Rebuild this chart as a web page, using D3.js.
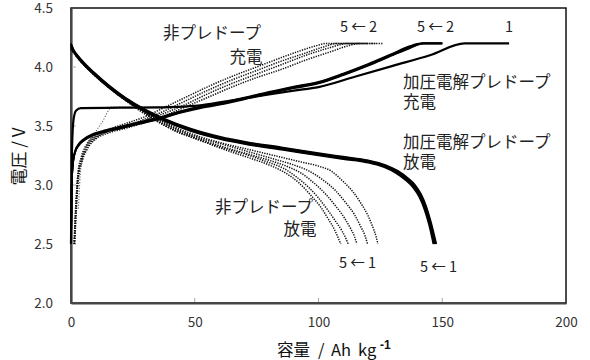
<!DOCTYPE html>
<html><head><meta charset="utf-8">
<script src="https://cdn.jsdelivr.net/npm/d3@7"></script>
<style>
body{margin:0;background:#fff;}
svg{display:block;}
text{font-family:"Noto Sans CJK JP","Noto Sans",sans-serif;}
</style></head>
<body><svg id="c" width="590" height="360"></svg>
<script>
// ---- axis ticks ----
const xTicks = [0, 50, 100, 150, 200];
const yTicks = [2.0, 2.5, 3.0, 3.5, 4.0, 4.5];

// ---- pre-doped (加圧電解プレドープ) charge, solid ----
const preCharge1 = [[0,2.5],[0.4,3.3],[1,3.55],[2,3.63],[4,3.652],[20,3.655],[40,3.66],[50,3.67],[60,3.7],[75,3.75],[90,3.8],[100,3.83],[115,3.92],[130,4.01],[145,4.1],[159,4.2],[177,4.2]];
const preCharge2 = [[0,2.5],[0.3,3.0],[0.8,3.18],[1.6,3.27],[3,3.33],[5.5,3.38],[9,3.42],[14,3.45],[20,3.48],[28,3.52],[36,3.56],[44,3.61],[52,3.65],[60,3.68],[75,3.75],[90,3.82],[100,3.86],[110,3.93],[120,4.01],[130,4.1],[137,4.16],[142.5,4.2],[150,4.2]];
const preCharge3 = [[0,2.5],[0.3,3.005],[0.8,3.185],[1.6,3.275],[3,3.335],[5.5,3.385],[9,3.425],[14,3.455],[20,3.485],[28,3.525],[36,3.565],[44,3.615],[52,3.655],[60,3.685],[75,3.755],[90,3.825],[100,3.865],[110,3.935],[120,4.015],[130,4.105],[137,4.165],[142.2,4.2],[150,4.2]];
const preCharge4 = [[0,2.5],[0.3,3.01],[0.8,3.19],[1.6,3.28],[3,3.34],[5.5,3.39],[9,3.43],[14,3.46],[20,3.49],[28,3.53],[36,3.57],[44,3.62],[52,3.66],[60,3.69],[75,3.76],[90,3.83],[100,3.87],[110,3.94],[120,4.02],[130,4.11],[136.8,4.17],[141.9,4.2],[150,4.2]];
const preCharge5 = [[0,2.5],[0.3,3.015],[0.8,3.195],[1.6,3.285],[3,3.345],[5.5,3.395],[9,3.435],[14,3.465],[20,3.495],[28,3.535],[36,3.575],[44,3.625],[52,3.665],[60,3.695],[75,3.765],[90,3.835],[100,3.875],[110,3.945],[120,4.025],[130,4.115],[136.6,4.175],[141.6,4.2],[150,4.2]];

// ---- pre-doped discharge, solid ----
const preDis1 = [[0,4.2],[1,4.15],[3,4.09],[6,4.02],[9,3.96],[15,3.85],[22,3.74],[30,3.64],[38,3.56],[48,3.48],[60,3.41],[72,3.36],[85,3.32],[100,3.27],[110,3.24],[120,3.21],[127,3.17],[132,3.12],[136,3.06],[139,3.0],[141.5,2.92],[143.5,2.82],[145.5,2.68],[147.6,2.5]];
const preDis2 = [[0,4.19],[1,4.145],[3,4.085],[6,4.015],[9,3.955],[15,3.845],[22,3.735],[30,3.635],[38,3.555],[48,3.475],[60,3.405],[72,3.355],[85,3.315],[100,3.265],[110,3.235],[120,3.205],[127,3.165],[132,3.115],[135.9,3.055],[138.8,2.995],[141.3,2.915],[143.3,2.815],[145.3,2.675],[147.3,2.5]];
const preDis3 = [[0,4.185],[1,4.14],[3,4.08],[6,4.01],[9,3.95],[15,3.84],[22,3.73],[30,3.63],[38,3.55],[48,3.47],[60,3.4],[72,3.35],[85,3.31],[100,3.26],[110,3.23],[120,3.2],[127,3.16],[131.8,3.11],[135.7,3.05],[138.6,2.99],[141.1,2.91],[143.1,2.81],[145.1,2.67],[147,2.5]];
const preDis4 = [[0,4.18],[1,4.135],[3,4.075],[6,4.005],[9,3.945],[15,3.835],[22,3.725],[30,3.625],[38,3.545],[48,3.465],[60,3.395],[72,3.345],[85,3.305],[100,3.255],[110,3.225],[120,3.195],[126.8,3.155],[131.6,3.105],[135.5,3.045],[138.4,2.985],[140.9,2.905],[142.9,2.805],[144.9,2.665],[146.7,2.5]];
const preDis5 = [[0,4.175],[1,4.13],[3,4.07],[6,4.0],[9,3.94],[15,3.83],[22,3.72],[30,3.62],[38,3.54],[48,3.46],[60,3.39],[72,3.34],[85,3.3],[100,3.25],[110,3.22],[120,3.19],[126.6,3.15],[131.4,3.1],[135.3,3.04],[138.2,2.98],[140.7,2.9],[142.7,2.8],[144.7,2.66],[146.4,2.5]];

// ---- non-pre-doped (非プレドープ) charge, dotted ----
const nonCharge1 = [[3,2.8],[4,3.15],[5.7,3.3],[9,3.42],[12.5,3.53],[16.6,3.66],[25,3.66],[40,3.665]];
const nonCharge2 = [[1.5,2.5],[2.2,2.8],[3,3.05],[4.5,3.2],[7,3.32],[10,3.39],[15,3.44],[22,3.48],[30,3.53],[38,3.59],[46,3.66],[55,3.74],[65,3.83],[75,3.91],[85,3.98],[95,4.06],[105,4.13],[112,4.18],[116.8,4.2],[126,4.2]];
const nonCharge3 = [[1.4,2.5],[2.1,2.82],[2.9,3.07],[4.4,3.21],[6.8,3.33],[10,3.4],[15,3.45],[22,3.49],[30,3.55],[38,3.61],[46,3.68],[55,3.77],[65,3.86],[75,3.94],[85,4.02],[95,4.1],[104,4.16],[112,4.2],[123,4.2]];
const nonCharge4 = [[1.3,2.5],[2,2.83],[2.8,3.08],[4.3,3.22],[6.6,3.34],[10,3.41],[15,3.46],[22,3.5],[30,3.56],[38,3.63],[46,3.71],[55,3.8],[65,3.89],[75,3.97],[85,4.05],[95,4.12],[102,4.17],[107.5,4.2],[120,4.2]];
const nonCharge5 = [[1.2,2.5],[2,2.85],[2.8,3.1],[4.2,3.24],[6.5,3.35],[10,3.42],[15,3.47],[22,3.52],[30,3.58],[38,3.66],[46,3.74],[55,3.83],[65,3.92],[75,4.0],[85,4.08],[93,4.14],[99,4.18],[103.4,4.2],[117,4.2]];

// ---- non-pre-doped discharge, dotted ----
const nonDis1 = [[0,4.16],[3,4.08],[8,3.97],[14,3.86],[20,3.76],[27,3.66],[34,3.57],[42,3.49],[52,3.41],[62,3.35],[72,3.3],[82,3.25],[92,3.2],[100,3.16],[105,3.12],[110,3.03],[114,2.94],[117,2.85],[120,2.74],[122,2.64],[123.3,2.56],[124,2.5]];
const nonDis2 = [[0,4.16],[3,4.08],[8,3.97],[14,3.86],[20,3.76],[27,3.66],[34,3.57],[42,3.48],[52,3.4],[62,3.34],[72,3.28],[82,3.22],[90,3.17],[96,3.12],[102,3.04],[107,2.95],[111,2.85],[114.5,2.75],[117,2.65],[118.8,2.57],[119.8,2.5]];
const nonDis3 = [[0,4.15],[3,4.08],[8,3.97],[14,3.85],[20,3.75],[27,3.65],[34,3.56],[42,3.47],[52,3.39],[62,3.32],[72,3.26],[80,3.21],[87,3.16],[93,3.1],[98,3.02],[103,2.92],[107,2.82],[110.5,2.72],[113,2.63],[114.6,2.56],[115.5,2.5]];
const nonDis4 = [[0,4.15],[3,4.07],[8,3.96],[14,3.85],[20,3.75],[27,3.65],[34,3.55],[42,3.46],[52,3.38],[62,3.31],[72,3.25],[80,3.19],[86,3.14],[91,3.07],[96,2.98],[100,2.89],[104,2.78],[107,2.69],[109.5,2.61],[111,2.55],[112,2.5]];
const nonDis5 = [[0,4.15],[3,4.07],[8,3.96],[14,3.85],[20,3.75],[27,3.64],[34,3.55],[42,3.46],[52,3.38],[62,3.3],[72,3.23],[80,3.17],[86,3.11],[92,3.02],[97,2.91],[101,2.81],[104,2.71],[106.5,2.62],[108,2.55],[109,2.5]];

// ---- annotation texts [label, x (Ah/kg), y (V), size] ----
const notes = [
  ["非プレドープ", 37.2, 4.237, 16.5],
  ["充電", 64, 4.034, 16.5],
  ["5 ← 2", 108.7, 4.297, 14.5],
  ["5 ← 2", 139.8, 4.297, 14.5],
  ["1", 175.4, 4.297, 14.5],
  ["加圧電解プレドープ", 134.1, 3.822, 16.5],
  ["充電", 134.1, 3.653, 16.5],
  ["加圧電解プレドープ", 134.1, 3.314, 16.5],
  ["放電", 134.1, 3.144, 16.5],
  ["非プレドープ", 58.2, 2.763, 16.5],
  ["放電", 85.9, 2.576, 16.5],
  ["5 ← 1", 108.3, 2.297, 14.5],
  ["5 ← 1", 141, 2.263, 14.5]
];

const W = 590, H = 360;
const m = {l:71, r:24, t:8, b:57};
const svg = d3.select("#c");
const x = d3.scaleLinear().domain([0,200]).range([m.l, W-m.r]);
const y = d3.scaleLinear().domain([2,4.5]).range([H-m.b, m.t]);

// frame (top/right)
svg.append("rect").attr("x", x(0)).attr("y", y(4.5)).attr("width", x(200)-x(0)).attr("height", y(2)-y(4.5))
  .attr("fill","none").attr("stroke","#111").attr("stroke-width",1.5);

// axes
const xAxis = d3.axisBottom(x).tickValues(xTicks).tickSize(0).tickPadding(14).tickFormat(d3.format("d"));
const yAxis = d3.axisLeft(y).tickValues(yTicks).tickSize(0).tickPadding(18).tickFormat(d3.format(".1f"));
const gx = svg.append("g").attr("transform",`translate(0,${y(2)})`).call(xAxis);
const gy = svg.append("g").attr("transform",`translate(${x(0)},0)`).call(yAxis);
[gx,gy].forEach(g=>{
  g.select(".domain").attr("stroke","#444").attr("stroke-width",2.2);
  g.selectAll("text").attr("font-family","Liberation Sans, Arial, sans-serif").attr("font-size",13.5).attr("fill","#333");
});
// inner tick marks
svg.append("g").selectAll("line").data(xTicks.slice(1,-1)).join("line")
  .attr("x1",d=>x(d)).attr("x2",d=>x(d)).attr("y1",y(2)-1).attr("y2",y(2)-5).attr("stroke","#aaa").attr("stroke-width",1);
svg.append("g").selectAll("line").data(yTicks.slice(1,-1)).join("line")
  .attr("x1",x(0)+1).attr("x2",x(0)+5).attr("y1",d=>y(d)).attr("y2",d=>y(d)).attr("stroke","#aaa").attr("stroke-width",1);

const line = d3.line().x(d=>x(d[0])).y(d=>y(d[1])).curve(d3.curveMonotoneX);

// dotted (non-pre-doped)
const dotted = [nonDis1,nonDis2,nonDis3,nonDis4,nonDis5,nonCharge2,nonCharge3,nonCharge4,nonCharge5];
svg.append("g").selectAll("path").data(dotted).join("path")
  .attr("d",line).attr("fill","none").attr("stroke","#111").attr("stroke-width",1.5).attr("stroke-dasharray","1.3 1.2");
svg.append("path").datum(nonCharge1).attr("d",line).attr("fill","none").attr("stroke","#666").attr("stroke-width",1.1).attr("stroke-dasharray","1.2 1.6");

// solid (pre-doped)
const solid = [preDis1,preDis2,preDis3,preDis4,preDis5,preCharge2,preCharge3,preCharge4,preCharge5];
svg.append("g").selectAll("path").data(solid).join("path")
  .attr("d",line).attr("fill","none").attr("stroke","#000").attr("stroke-width",1.7).attr("stroke-linejoin","round");
svg.append("path").datum(preCharge1).attr("d",line).attr("fill","none").attr("stroke","#000").attr("stroke-width",2.2).attr("stroke-linejoin","round");

// annotations
svg.append("g").selectAll("text").data(notes).join("text")
  .attr("x",d=>x(d[1])).attr("y",d=>y(d[2])).attr("font-size",d=>d[3]).attr("fill","#222").text(d=>d[0]);

// axis titles
const xt = svg.append("text").attr("y",356).attr("font-size",16.5).attr("fill","#111");
xt.append("tspan").attr("x",277).text("容量");
xt.append("tspan").attr("x",318).text("/");
xt.append("tspan").attr("x",331).text("Ah");
xt.append("tspan").attr("x",358).text("kg");
xt.append("tspan").attr("x",380).attr("dy",-7).attr("font-size",12).attr("font-weight","bold").attr("font-family","Liberation Sans, Arial, sans-serif").text("-1");
svg.append("text").attr("transform",`translate(25,${(y(2)+y(4.5))/2 + 1}) rotate(-90)`).attr("text-anchor","middle")
  .attr("font-size",17).attr("fill","#111").text("電圧 / V");
</script></body></html>
